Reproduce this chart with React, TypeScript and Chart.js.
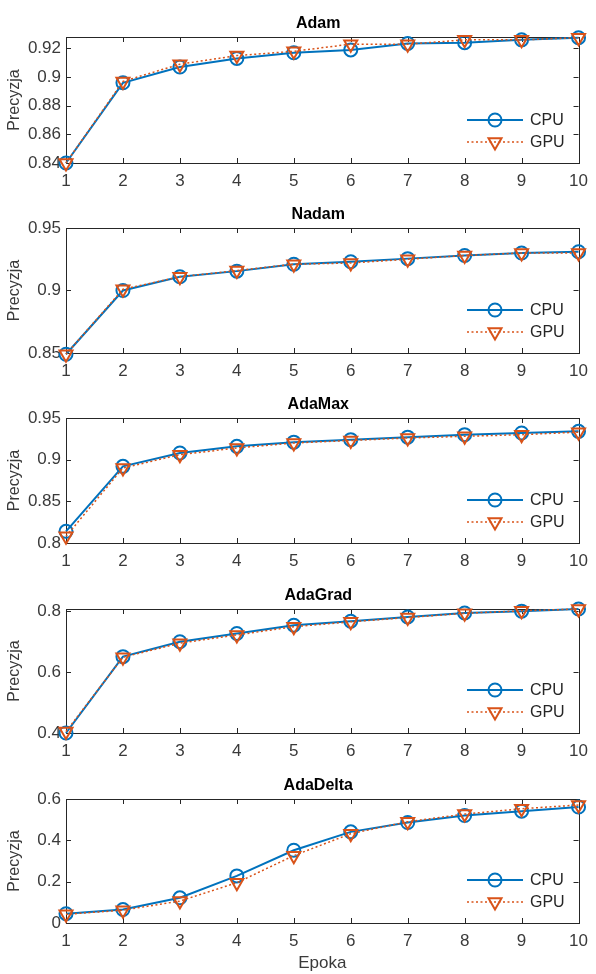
import React, { useEffect, useRef } from "react";
import { Chart, registerables } from "chart.js";

Chart.register(...registerables);

// ---------------- data ----------------
const epochs = [1, 2, 3, 4, 5, 6, 7, 8, 9, 10];
const optimizerTitles = ["Adam", "Nadam", "AdaMax", "AdaGrad", "AdaDelta"];
const seriesLabels = ["CPU", "GPU"];
const xAxisLabel = "Epoka";
const yAxisLabel = "Precyzja";

const adamCPU = [0.84, 0.896, 0.907, 0.913, 0.917, 0.919, 0.9235, 0.924, 0.926, 0.9275];
const adamGPU = [0.84, 0.897, 0.909, 0.915, 0.918, 0.923, 0.923, 0.926, 0.926, 0.9275];
const nadamCPU = [0.849, 0.9, 0.911, 0.9155, 0.921, 0.923, 0.9255, 0.928, 0.93, 0.931];
const nadamGPU = [0.849, 0.901, 0.911, 0.916, 0.921, 0.922, 0.925, 0.928, 0.93, 0.93];
const adamaxCPU = [0.814, 0.892, 0.908, 0.916, 0.921, 0.924, 0.927, 0.93, 0.932, 0.934];
const adamaxGPU = [0.808, 0.89, 0.906, 0.914, 0.92, 0.923, 0.926, 0.928, 0.93, 0.933];
const adagradCPU = [0.4, 0.65, 0.699, 0.726, 0.753, 0.766, 0.78, 0.793, 0.799, 0.806];
const adagradGPU = [0.405, 0.648, 0.694, 0.721, 0.748, 0.764, 0.778, 0.792, 0.8, 0.806];
const adadeltaCPU = [0.045, 0.065, 0.122, 0.228, 0.352, 0.441, 0.486, 0.52, 0.541, 0.561];
const adadeltaGPU = [0.042, 0.062, 0.106, 0.195, 0.326, 0.432, 0.49, 0.527, 0.553, 0.571];

const cpuSeries = [adamCPU, nadamCPU, adamaxCPU, adagradCPU, adadeltaCPU];
const gpuSeries = [adamGPU, nadamGPU, adamaxGPU, adagradGPU, adadeltaGPU];

const yMinValues = [0.84, 0.85, 0.8, 0.4, 0];
const yMaxValues = [0.928, 0.95, 0.95, 0.806, 0.6];
const yTickValues = [
  [0.84, 0.86, 0.88, 0.9, 0.92],
  [0.85, 0.9, 0.95],
  [0.8, 0.85, 0.9, 0.95],
  [0.4, 0.6, 0.8],
  [0, 0.2, 0.4, 0.6],
];

// ---------------- layout / style ----------------
const W = 596;
const TOTAL_H = 974;
const plotTops = [37, 228, 418, 609, 799];
const plotBottoms = [163, 353, 543, 733, 923];
const TITLE_SPACE = 37;
const X_AXIS_H = 26;

const BLUE = "#0072BD";
const ORANGE = "#D95319";
const AXIS = "#262626";
const TICK_COLOR = "#3a3a3a";
const FONT = '"Liberation Sans", Arial, sans-serif';

const fmt = (v: number) => String(parseFloat(v.toFixed(3)));

function drawMarker(ctx: CanvasRenderingContext2D, style: string, x: number, y: number, r: number) {
  ctx.beginPath();
  if (style === "circle") {
    ctx.arc(x, y, r, 0, Math.PI * 2);
  } else {
    let rad = Math.PI;
    const step = (Math.PI * 2) / 3;
    ctx.moveTo(x + Math.sin(rad) * r, y - Math.cos(rad) * r);
    rad += step;
    ctx.lineTo(x + Math.sin(rad) * r, y - Math.cos(rad) * r);
    rad += step;
    ctx.lineTo(x + Math.sin(rad) * r, y - Math.cos(rad) * r);
    ctx.closePath();
  }
  ctx.stroke();
}

const matlabPlugin = {
  id: "matlab",
  beforeDatasetsDraw(chart: any, _args: any, opts: any) {
    const { ctx, chartArea: a, scales } = chart;
    ctx.save();
    ctx.strokeStyle = AXIS;
    ctx.lineWidth = 1;
    ctx.strokeRect(Math.round(a.left) + 0.5, Math.round(a.top) + 0.5, Math.round(a.right - a.left), Math.round(a.bottom - a.top));
    ctx.beginPath();
    const tl = 5;
    scales.x.ticks.forEach((t: any) => {
      const x = Math.round(scales.x.getPixelForValue(t.value)) + 0.5;
      ctx.moveTo(x, a.bottom);
      ctx.lineTo(x, a.bottom - tl);
      ctx.moveTo(x, a.top);
      ctx.lineTo(x, a.top + tl);
    });
    scales.y.ticks.forEach((t: any) => {
      const y = Math.round(scales.y.getPixelForValue(t.value)) + 0.5;
      ctx.moveTo(a.left, y);
      ctx.lineTo(a.left + tl, y);
      ctx.moveTo(a.right, y);
      ctx.lineTo(a.right - tl, y);
    });
    ctx.stroke();

    // title
    ctx.fillStyle = "#000";
    ctx.font = `bold 16px ${FONT}`;
    ctx.textAlign = "center";
    ctx.textBaseline = "alphabetic";
    ctx.fillText(opts.title, (a.left + a.right) / 2 - 4, a.top - 9);

    // y label
    ctx.save();
    ctx.translate(15, (a.top + a.bottom) / 2);
    ctx.rotate(-Math.PI / 2);
    ctx.font = `16px ${FONT}`;
    ctx.fillStyle = TICK_COLOR;
    ctx.textAlign = "center";
    ctx.textBaseline = "middle";
    ctx.fillText(yAxisLabel, 0, 0);
    ctx.restore();
    ctx.restore();
  },
  afterDraw(chart: any, _args: any, opts: any) {
    const { ctx, chartArea: a } = chart;
    ctx.save();
    const rows = [a.bottom - 43, a.bottom - 21];
    chart.data.datasets.forEach((ds: any, i: number) => {
      const y = rows[i];
      ctx.strokeStyle = ds.borderColor;
      ctx.lineWidth = ds.borderWidth;
      ctx.setLineDash(ds.borderDash || []);
      ctx.beginPath();
      ctx.moveTo(467, y);
      ctx.lineTo(523, y);
      ctx.stroke();
      ctx.setLineDash([]);
      ctx.lineWidth = ds.pointBorderWidth;
      drawMarker(ctx, ds.pointStyle, 495, y, ds.pointRadius);
      ctx.fillStyle = AXIS;
      ctx.font = `16px ${FONT}`;
      ctx.textAlign = "left";
      ctx.textBaseline = "middle";
      ctx.fillText(ds.label, 530, y + 1);
    });
    if (opts.showXLabel) {
      ctx.fillStyle = TICK_COLOR;
      ctx.font = `17px ${FONT}`;
      ctx.textAlign = "center";
      ctx.textBaseline = "middle";
      ctx.fillText(xAxisLabel, (a.left + a.right) / 2, a.bottom + 40);
    }
    ctx.restore();
  },
};

function Panel({ idx }: { idx: number }) {
  const ref = useRef<HTMLCanvasElement>(null);
  const top = plotTops[idx] - TITLE_SPACE;
  const H = idx < 4 ? 190 : TOTAL_H - top;
  const chartBottomRel = plotBottoms[idx] - top;
  const padBottom = H - chartBottomRel - X_AXIS_H;

  useEffect(() => {
    if (!ref.current) return;
    const chart = new Chart(ref.current, {
      type: "line",
      data: {
        labels: epochs,
        datasets: [
          {
            label: seriesLabels[0],
            data: epochs.map((e, i) => ({ x: e, y: cpuSeries[idx][i] })),
            borderColor: BLUE,
            backgroundColor: "rgba(0,0,0,0)",
            borderWidth: 2,
            pointStyle: "circle",
            pointRadius: 6.5,
            pointBorderWidth: 2,
            pointBorderColor: BLUE,
            pointBackgroundColor: "rgba(0,0,0,0)",
            tension: 0,
            clip: false as any,
            order: 1,
          },
          {
            label: seriesLabels[1],
            data: epochs.map((e, i) => ({ x: e, y: gpuSeries[idx][i] })),
            borderColor: ORANGE,
            backgroundColor: "rgba(0,0,0,0)",
            borderWidth: 1.5,
            borderDash: [2, 2.5],
            pointStyle: "triangle",
            pointRotation: 180,
            pointRadius: 7.5,
            pointBorderWidth: 2,
            pointBorderColor: ORANGE,
            pointBackgroundColor: "rgba(0,0,0,0)",
            tension: 0,
            clip: false as any,
            order: 0,
          },
        ],
      },
      options: {
        animation: false,
        responsive: false,
        devicePixelRatio: 1,
        events: [],
        layout: { padding: { left: 6, right: 11, top: TITLE_SPACE, bottom: padBottom } },
        plugins: {
          legend: { display: false },
          tooltip: { enabled: false },
          title: { display: false },
          // @ts-ignore
          matlab: { title: optimizerTitles[idx], showXLabel: idx === 4 },
        },
        scales: {
          x: {
            type: "linear",
            min: 1,
            max: 10,
            afterBuildTicks: (s: any) => {
              s.ticks = epochs.map((v) => ({ value: v }));
            },
            afterFit: (s: any) => {
              s.height = X_AXIS_H;
            },
            ticks: {
              padding: 8,
              color: TICK_COLOR,
              font: { family: FONT, size: 17 },
              callback: (v: any) => String(v),
              maxRotation: 0,
              autoSkip: false,
            },
            grid: { display: false, drawTicks: false },
            border: { display: false },
          },
          y: {
            type: "linear",
            min: yMinValues[idx],
            max: yMaxValues[idx],
            afterBuildTicks: (s: any) => {
              s.ticks = yTickValues[idx].map((v) => ({ value: v }));
            },
            afterFit: (s: any) => {
              s.width = 60;
            },
            ticks: {
              padding: 5,
              color: TICK_COLOR,
              font: { family: FONT, size: 17 },
              callback: (v: any) => fmt(Number(v)),
              autoSkip: false,
            },
            grid: { display: false, drawTicks: false },
            border: { display: false },
          },
        },
      },
      plugins: [matlabPlugin as any],
    });
    return () => chart.destroy();
  }, []);

  return (
    <canvas
      ref={ref}
      width={W}
      height={H}
      style={{ position: "absolute", left: 0, top, width: W, height: H }}
    />
  );
}

export default function App() {
  return (
    <div style={{ position: "absolute", left: 0, top: 0, width: W, height: TOTAL_H, background: "#fff" }}>
      {optimizerTitles.map((_, i) => (
        <Panel key={i} idx={i} />
      ))}
    </div>
  );
}
